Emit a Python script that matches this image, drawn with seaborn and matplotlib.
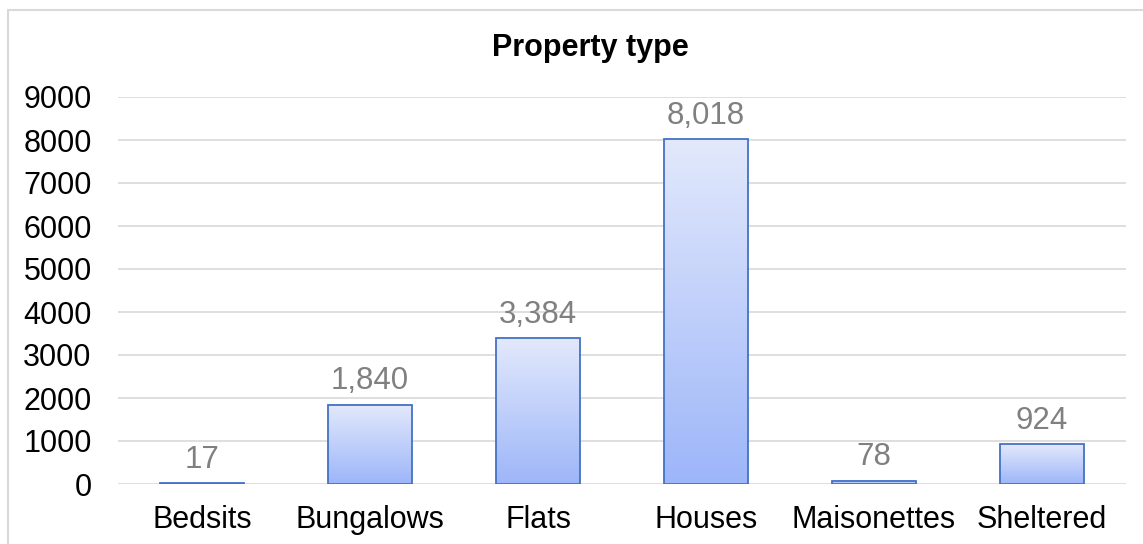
import numpy as np
import pandas as pd
import seaborn as sns
import matplotlib.pyplot as plt
from matplotlib.patches import Rectangle
from matplotlib.colors import LinearSegmentedColormap

# Data
categories = ['Bedsits', 'Bungalows', 'Flats', 'Houses', 'Maisonettes', 'Sheltered']
counts = [17, 1840, 3384, 8018, 78, 924]
df = pd.DataFrame({'type': categories, 'count': counts})

sns.set_style('white')
plt.rcParams['font.family'] = ['Liberation Sans', 'DejaVu Sans']

fig = plt.figure(figsize=(11.43, 5.44), dpi=100)
ax = fig.add_axes([118 / 1143, 1 - 484 / 544, 1008 / 1143, (484 - 97) / 544])

sns.barplot(data=df, x='type', y='count', width=0.5, color='#9DB6F9', ax=ax)

# gradient fill for each bar
cmap = LinearSegmentedColormap.from_list('grad', ['#9DB6F9', '#E3E9FC'])
grad = np.linspace(0, 1, 256).reshape(-1, 1)
for p in ax.patches:
    x0, y0 = p.get_x(), p.get_y()
    w, h = p.get_width(), p.get_height()
    ax.imshow(grad, extent=[x0, x0 + w, y0, y0 + h], origin='lower', cmap=cmap,
              aspect='auto', zorder=2)
    p.set_facecolor('none')
    p.set_edgecolor('#4472C4')
    p.set_linewidth(1.3)
    p.set_zorder(3)
    ax.text(x0 + w / 2, y0 + h + 200, f'{int(h):,}', ha='center', va='bottom',
            fontsize=22.5, color='#808080')

ax.set_xlim(-0.5, len(categories) - 0.5)
ax.set_ylim(0, 9000)
ax.set_yticks(range(0, 9001, 1000))
ax.yaxis.grid(True, color='#D9D9D9', linewidth=1.2)
ax.set_axisbelow(True)
for s in ax.spines.values():
    s.set_visible(False)
ax.tick_params(axis='both', length=0, labelsize=22, labelcolor='black')
ax.tick_params(axis='y', pad=19)
ax.tick_params(axis='x', pad=15)
ax.set_xlabel('')
ax.set_ylabel('')

fig.text(590 / 1143, 1 - 48 / 544, 'Property type', ha='center', va='center',
         fontsize=22, fontweight='bold', color='black')

# chart border
fig.patches.append(Rectangle((8 / 1143, -0.1), 1.2, 1 - 10 / 544 + 0.1,
                             transform=fig.transFigure, fill=False,
                             edgecolor='#D9D9D9', linewidth=1.5))

fig.savefig('out.png', dpi=100)
